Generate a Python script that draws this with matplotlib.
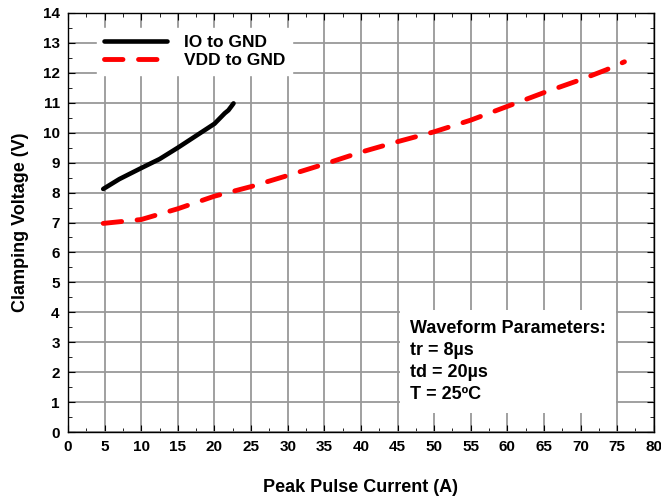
import matplotlib
matplotlib.use("Agg")
import matplotlib.pyplot as plt
from matplotlib.ticker import MultipleLocator

plt.rcParams["font.family"] = ["Liberation Sans", "DejaVu Sans"]
plt.rcParams["font.weight"] = "bold"

# IO to GND curve (A, V)
io_current = [4.8, 7.0, 10.0, 12.5, 15.0, 17.5, 20.0, 21.4, 21.9, 22.3, 22.6]
io_voltage = [8.12, 8.45, 8.82, 9.12, 9.5, 9.9, 10.3, 10.65, 10.75, 10.88, 10.98]

# VDD to GND curve (A, V)
vdd_current = [4.8, 10, 15, 20, 25, 30, 35, 40, 45, 50, 55, 60, 65, 70, 73.5, 76.0]
vdd_voltage = [6.97, 7.1, 7.46, 7.88, 8.2, 8.57, 8.95, 9.35, 9.7, 10.03, 10.42, 10.88,
               11.34, 11.77, 12.1, 12.37]

fig = plt.figure(figsize=(6.61, 5.0), dpi=100)
ax = fig.add_axes([0.103, 0.136, 0.886, 0.838])

ax.plot(io_current, io_voltage, color="black", lw=3.3, solid_capstyle="round",
        label="IO to GND", zorder=3)
ax.plot(vdd_current, vdd_voltage, color="red", lw=3.5, dashes=(3.8, 3.2),
        dash_capstyle="round", label="VDD to GND", zorder=3)

ax.set_xlim(0, 80)
ax.set_ylim(0, 14)
ax.xaxis.set_major_locator(MultipleLocator(5))
ax.xaxis.set_minor_locator(MultipleLocator(2.5))
ax.yaxis.set_major_locator(MultipleLocator(1))
ax.yaxis.set_minor_locator(MultipleLocator(0.5))
ax.tick_params(which="both", direction="in", top=True, right=True,
               labelsize=11, color="black")
ax.tick_params(which="major", length=5, pad=6)
ax.tick_params(which="minor", length=3)
ax.grid(True, which="major", color="#999999", lw=1.3)
for s in ax.spines.values():
    s.set_linewidth(1.0)
    s.set_zorder(4)

ax.set_xlabel("Peak Pulse Current (A)", fontsize=13, fontweight="bold", labelpad=18)
ax.set_ylabel("Clamping Voltage (V)", fontsize=13, fontweight="bold", labelpad=10)

leg = ax.legend(loc="upper left", bbox_to_anchor=(0.035, 0.985), fontsize=12.5,
                frameon=True, fancybox=False, handlelength=3.6, handletextpad=1.0,
                labelspacing=0.15, borderpad=0.4)
leg.get_frame().set_edgecolor("white")
leg.get_frame().set_facecolor("white")
leg.get_frame().set_alpha(1.0)

ax.text(0.584, 0.268, "Waveform Parameters:\ntr = 8\u00b5s\ntd = 20\u00b5s\nT = 25\u00baC",
        transform=ax.transAxes, fontsize=13, fontweight="bold", va="top",
        ha="left", linespacing=1.4, zorder=5,
        bbox=dict(facecolor="white", edgecolor="none", pad=7))

fig.savefig("out.png", dpi=100)
